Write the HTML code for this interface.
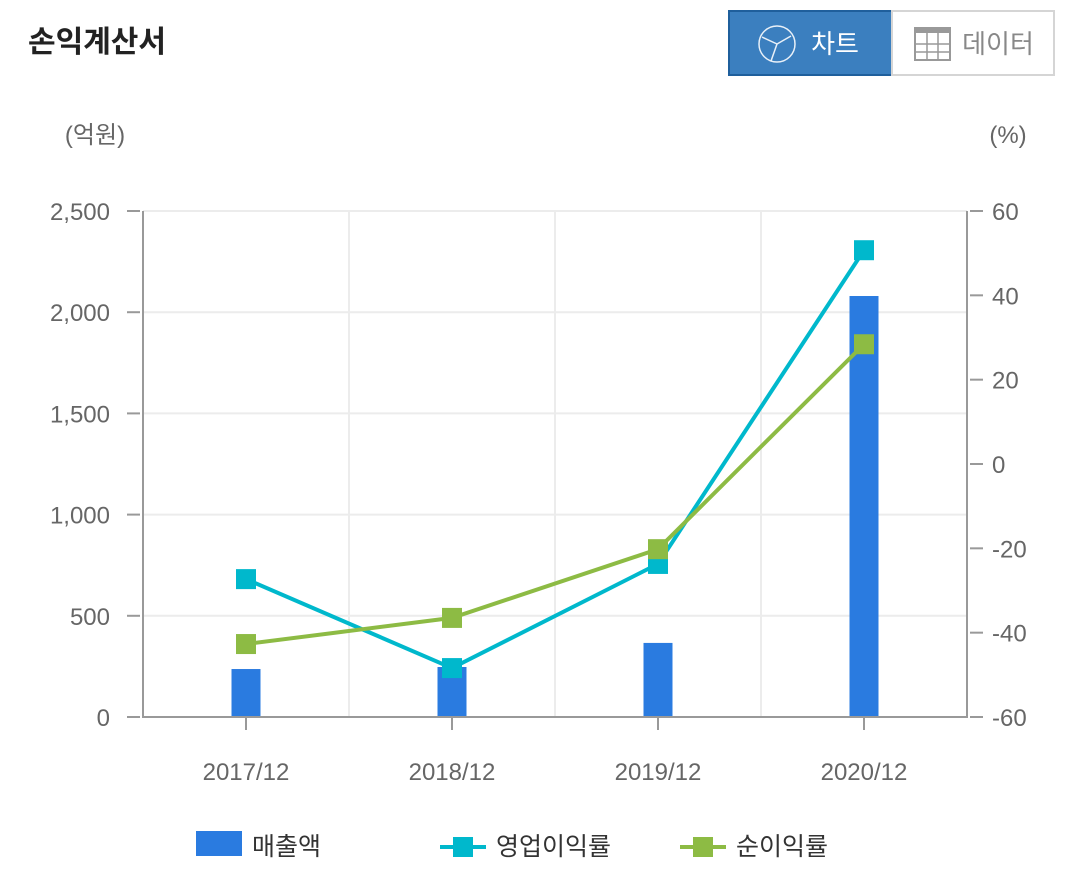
<!DOCTYPE html>
<html><head><meta charset="utf-8"><style>
body{margin:0;background:#fff;width:1080px;height:881px;overflow:hidden;font-family:"Liberation Sans","Noto Sans CJK KR",sans-serif;}
</style></head><body>
<svg width="1080" height="881" xmlns="http://www.w3.org/2000/svg" font-family="Liberation Sans, Noto Sans CJK KR, sans-serif">
<text x="28" y="52" font-size="30" font-weight="bold" fill="#222">손익계산서</text>
<g>
<rect x="729" y="11" width="163" height="64" fill="#3b7fbf" stroke="#1f5f9c" stroke-width="2"/>
<circle cx="777" cy="44" r="18" fill="none" stroke="#e8f0f8" stroke-width="1.5"/>
<path d="M777 44 L762 37 M777 44 L791 36 M777 44 L771 61" stroke="#e8f0f8" stroke-width="1.5"/>
<text x="835" y="53" font-size="26" fill="#fff" text-anchor="middle">차트</text>
</g>
<g>
<rect x="892" y="11" width="162" height="64" fill="#fff" stroke="#d5d5d5" stroke-width="2"/>
<rect x="915" y="28" width="35" height="32" fill="none" stroke="#999" stroke-width="2"/>
<rect x="915" y="28" width="35" height="5" fill="#999"/>
<path d="M927 28V60M938 28V60M915 44H950M915 52H950" stroke="#999" stroke-width="1.5"/>
<text x="998" y="53" font-size="26" fill="#888" text-anchor="middle">데이터</text>
</g>
<text x="95" y="143" font-size="24" fill="#666" text-anchor="middle">(억원)</text>
<text x="1008" y="143" font-size="24" fill="#666" text-anchor="middle">(%)</text>
<g id="grid"></g><g id="bars"></g><g id="axes"></g><g id="lines"></g>
<g>
<g><rect x="196" y="831" width="46" height="25" fill="#2a7be0"/><text x="252" y="855" font-size="25" fill="#333">매출액</text></g>
<g><line x1="440" y1="847" x2="486" y2="847" stroke="#00b8cc" stroke-width="4"/><rect x="453" y="837" width="20" height="20" fill="#00b8cc"/><text x="496" y="855" font-size="25" fill="#333">영업이익률</text></g>
<g><line x1="680" y1="847" x2="726" y2="847" stroke="#8dbb44" stroke-width="4"/><rect x="693" y="837" width="20" height="20" fill="#8dbb44"/><text x="736" y="855" font-size="25" fill="#333">순이익률</text></g>
</g>
</svg>
<script>
const categories=["2017/12","2018/12","2019/12","2020/12"];
const sales=[237,247,366,2080];
const opMargin=[-27.3,-48.4,-23.7,50.7];
const netMargin=[-42.7,-36.5,-20.2,28.4];
const leftTicks=[0,500,1000,1500,2000,2500];
const rightTicks=[-60,-40,-20,0,20,40,60];
const NS="http://www.w3.org/2000/svg";
const X0=143,X1=967,Y0=717,Y1=211;
const xc=i=>X0+(X1-X0)*(i+0.5)/categories.length;
const yl=v=>Y0-(v/2500)*(Y0-Y1);
const yr=v=>Y0-((v+60)/120)*(Y0-Y1);
function mk(t,a,p){const e=document.createElementNS(NS,t);for(const k in a)e.setAttribute(k,a[k]);p.appendChild(e);return e;}
const grid=document.getElementById('grid'),axes=document.getElementById('axes'),bars=document.getElementById('bars'),lines=document.getElementById('lines');
leftTicks.forEach(v=>{const y=yl(v);
const g=mk('line',{x1:X0,x2:X1,y1:y,y2:y,stroke:'#ececec','stroke-width':2},grid);


mk('line',{x1:127,x2:140,y1:y,y2:y,stroke:'#999','stroke-width':2},axes);
const t=mk('text',{x:110,y:y+9,'font-size':24,fill:'#666','text-anchor':'end'},axes);t.textContent=v.toLocaleString('en-US');

});
for(let i=1;i<categories.length;i++){const x=X0+(X1-X0)*i/categories.length;mk('line',{x1:x,x2:x,y1:Y1,y2:Y0,stroke:'#ececec','stroke-width':2},grid);}
rightTicks.forEach(v=>{const y=yr(v);
mk('line',{x1:970,x2:983,y1:y,y2:y,stroke:'#999','stroke-width':2},axes);
const t=mk('text',{x:992,y:y+9,'font-size':24,fill:'#666'},axes);t.textContent=v;

});
mk('line',{x1:X0,x2:X0,y1:Y1,y2:Y0+1,stroke:'#999','stroke-width':2},axes);
mk('line',{x1:X1,x2:X1,y1:Y1,y2:Y0+1,stroke:'#999','stroke-width':2},axes);
mk('line',{x1:X0,x2:X1,y1:Y0,y2:Y0,stroke:'#999','stroke-width':2},axes);
categories.forEach((c,i)=>{const x=xc(i);
mk('line',{x1:x,x2:x,y1:Y0,y2:730,stroke:'#999','stroke-width':2},axes);
const t=mk('text',{x:x,y:780,'font-size':24,fill:'#666','text-anchor':'middle'},axes);t.textContent=c;


const b=mk('rect',{x:x-14.5,y:yl(sales[i]),width:29,height:Y0-yl(sales[i]),fill:'#2a7be0'},bars);

});
function series(arr,col,name){
const p=mk('polyline',{points:arr.map((v,i)=>xc(i)+','+yr(v)).join(' '),fill:'none',stroke:col,'stroke-width':4},lines);


arr.forEach((v,i)=>{const r=mk('rect',{x:xc(i)-10,y:yr(v)-10,width:20,height:20,fill:col},lines);

});}
series(opMargin,'#00b8cc','operating-margin');
series(netMargin,'#8dbb44','net-margin');
</script>
</body></html>
